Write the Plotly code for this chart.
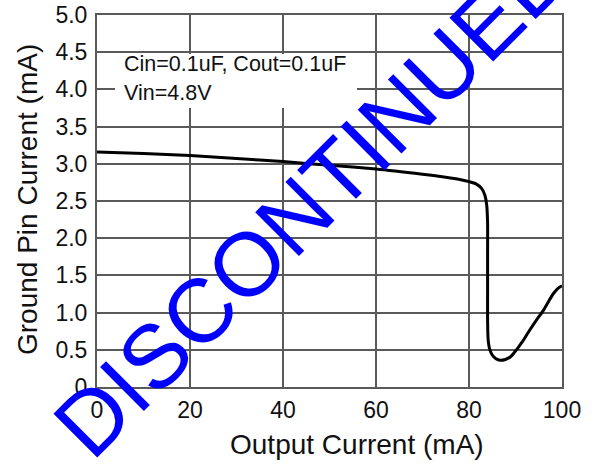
import plotly.graph_objects as go

# ---- data ----
output_current = [0, 10, 20, 30, 40, 50, 60, 70, 75, 78, 80, 81.5, 82.7, 83.4, 83.8, 84.0, 84.0, 84.0,
                  84.0, 84.1, 84.4, 85.0, 85.8, 86.7, 87.8, 89.0, 90.2, 91.6, 93.0, 94.5, 96.0, 97.2,
                  98.2, 99.2, 100]
ground_current = [3.16, 3.14, 3.11, 3.07, 3.03, 2.98, 2.93, 2.86, 2.82, 2.79, 2.76, 2.73, 2.67, 2.58,
                  2.45, 2.2, 1.8, 1.3, 0.9, 0.65, 0.52, 0.43, 0.38, 0.36, 0.37, 0.41, 0.50, 0.62,
                  0.76, 0.90, 1.03, 1.16, 1.26, 1.33, 1.36]
x_ticks = [0, 20, 40, 60, 80, 100]
y_ticks = [0, 0.5, 1.0, 1.5, 2.0, 2.5, 3.0, 3.5, 4.0, 4.5, 5.0]
y_tick_text = ["0", "0.5", "1.0", "1.5", "2.0", "2.5", "3.0", "3.5", "4.0", "4.5", "5.0"]
note_lines = ["Cin=0.1uF, Cout=0.1uF", "Vin=4.8V"]
x_title = "Output Current (mA)"
y_title = "Ground Pin Current (mA)"
watermark = "DISCONTINUED"

W, H = 592, 464
PL, PR, PT, PB = 97, 562, 15, 387          # plot box in window pixels
L, R, T, B = PL, W - PR, PT, H - PB
PW, PH = PR - PL, PB - PT


def px(x):
    return (x - PL) / PW


def py(y):
    return (PB - y) / PH


FONT = "Liberation Sans, Arial, sans-serif"
GRID = "#5a5a5a"

fig = go.Figure()
fig.add_trace(go.Scatter(x=output_current, y=ground_current, mode="lines",
                         line=dict(color="black", width=3, shape="spline", smoothing=0.6),
                         showlegend=False, hoverinfo="skip"))

fig.update_layout(
    width=W, height=H,
    margin=dict(l=L, r=R, t=T, b=B, autoexpand=False),
    paper_bgcolor="white", plot_bgcolor="white",
    font=dict(family=FONT, color="#111"),
    xaxis=dict(range=[0, 100], tickvals=x_ticks, showgrid=True, gridcolor=GRID, gridwidth=1.5,
               showline=True, linecolor=GRID, linewidth=2, mirror=True, zeroline=False,
               automargin=False, ticks="", tickfont=dict(size=23, family=FONT, color="#111"),
               ticklabelstandoff=1, ticklabeloverflow="allow"),
    yaxis=dict(range=[0, 5], tickvals=y_ticks, ticktext=y_tick_text, showgrid=True, gridcolor=GRID,
               gridwidth=1.5, showline=True, linecolor=GRID, linewidth=2, mirror=True, zeroline=False,
               automargin=False, ticks="", tickfont=dict(size=23, family=FONT, color="#111"),
               ticklabelstandoff=3, ticklabeloverflow="allow"),
)

# white note box
fig.add_shape(type="rect", xref="paper", yref="paper", x0=px(115), x1=px(357), y0=py(108), y1=py(54),
              fillcolor="white", line=dict(width=0), layer="above")
fig.add_annotation(text=note_lines[0], xref="paper", yref="paper", x=px(122), y=py(64),
                   xanchor="left", yanchor="middle", showarrow=False,
                   font=dict(size=21.5, family=FONT, color="#111"))
fig.add_annotation(text=note_lines[1], xref="paper", yref="paper", x=px(122), y=py(93),
                   xanchor="left", yanchor="middle", showarrow=False,
                   font=dict(size=21.5, family=FONT, color="#111"))

# axis titles
fig.add_annotation(text=x_title, xref="paper", yref="paper", x=px(357), y=py(444),
                   xanchor="center", yanchor="middle", showarrow=False,
                   font=dict(size=28, family=FONT, color="#111"))
fig.add_annotation(text=y_title, xref="paper", yref="paper", x=px(27), y=py(200),
                   xanchor="center", yanchor="middle", showarrow=False, textangle=-90,
                   font=dict(size=28, family=FONT, color="#111"))

# watermark
fig.add_annotation(text=watermark, xref="paper", yref="paper", x=px(312), y=py(199),
                   xanchor="center", yanchor="middle", showarrow=False, textangle=-45,
                   font=dict(size=90, family=FONT, color="#0000ff"))

fig.write_html("out.html", config={"displayModeBar": False},
               post_script="document.body.style.margin='0';document.body.style.padding='0';")
